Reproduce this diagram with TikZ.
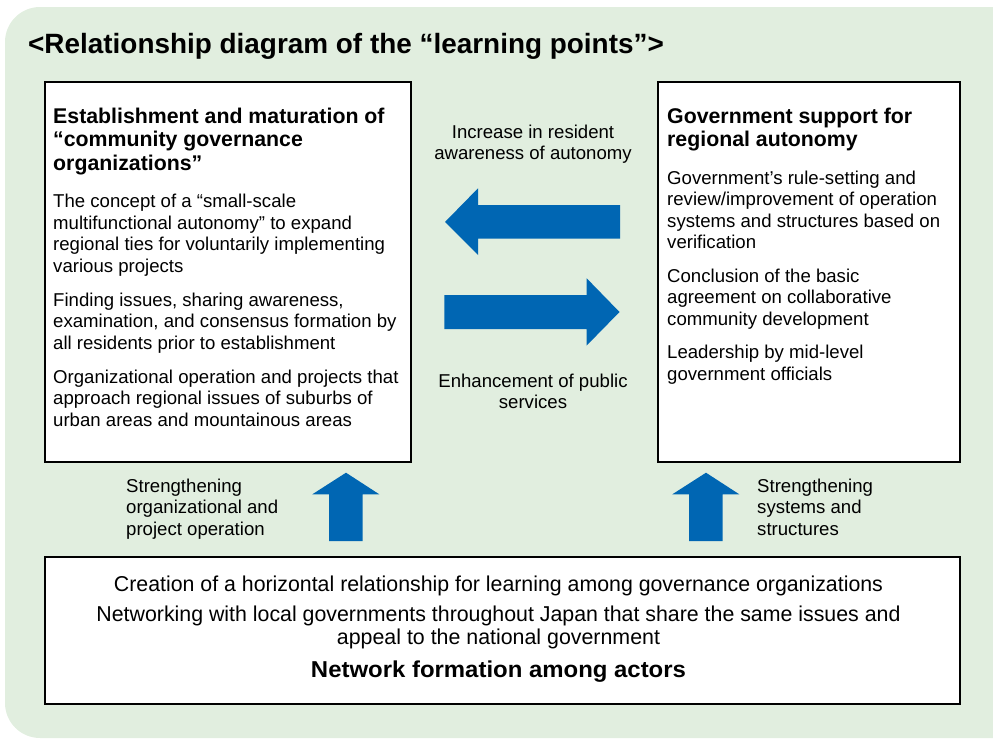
\documentclass[tikz,border=0pt]{standalone}
\usepackage{fontspec}
\setmainfont{Liberation Sans}
\usepackage{graphicx}
\definecolor{bggreen}{RGB}{225,238,223}
\definecolor{arrowblue}{RGB}{0,102,179}
\newcommand\txtlines[1]{\begin{tabular}[t]{@{}l@{}}#1\end{tabular}}
\newcommand\ctrlines[1]{\begin{tabular}[t]{@{}c@{}}#1\end{tabular}}
\newcommand\fitw[2]{\resizebox{#1}{\height}{#2}}
\begin{document}
\begin{tikzpicture}[x=1pt,y=-1pt,
  bx/.style={draw=black,line width=2pt,fill=white,inner sep=0pt,anchor=north west},
  arr/.style={fill=arrowblue},
  body/.style={inner sep=0pt,anchor=base west,font=\fontsize{18.6}{21.5}\selectfont},
  cbody/.style={inner sep=0pt,anchor=base,font=\fontsize{18.6}{21.5}\selectfont},
  head/.style={inner sep=0pt,anchor=base west,font=\fontsize{21.3}{23.5}\selectfont\bfseries},
  bot/.style={inner sep=0pt,anchor=base,font=\fontsize{21.5}{23}\selectfont},
  ]
\useasboundingbox (0,0) rectangle (993,739);
\fill[bggreen,rounded corners=35pt] (5,7) rectangle (1030,738);

% title
\node[inner sep=0pt,anchor=base west,font=\fontsize{27.9}{30}\selectfont\bfseries] (title) at (28,53) {<Relationship diagram of the “learning points”>};

% boxes
\node[bx,minimum width=366pt,minimum height=380pt] (lbox) at (44,81) {};
\node[bx,minimum width=302pt,minimum height=380pt] (rbox) at (657,81) {};
\node[bx,minimum width=915pt,minimum height=147pt] (bbox) at (44,556) {};

% left box text
\node[head] (lhead) at (53,123) {\txtlines{Establishment and maturation of\\“community governance\\organizations”}};
\node[body] (lp1) at (53,207.5) {\txtlines{The concept of a “small-scale\\multifunctional autonomy” to expand\\regional ties for voluntarily implementing\\various projects}};
\node[body] (lp2) at (53,306) {\txtlines{Finding issues, sharing awareness,\\examination, and consensus formation by\\all residents prior to establishment}};
\node[body] (lp3) at (53,383) {\txtlines{Organizational operation and projects that\\approach regional issues of suburbs of\\urban areas and mountainous areas}};

% right box text
\node[head] (rhead) at (667,123) {\txtlines{Government support for\\regional autonomy}};
\node[body] (rp1) at (667,184) {\txtlines{Government’s rule-setting and\\review/improvement of operation\\systems and structures based on\\verification}};
\node[body] (rp2) at (667,282) {\txtlines{Conclusion of the basic\\agreement on collaborative\\community development}};
\node[body] (rp3) at (667,358.5) {\txtlines{Leadership by mid-level\\government officials}};

% middle labels
\node[cbody] (mtop) at (533,138) {\ctrlines{Increase in resident\\awareness of autonomy}};
\node[cbody] (mbot) at (533,387) {\ctrlines{Enhancement of public\\services}};

% horizontal arrows
\fill[arr] (445,222) -- (478,188.3) -- (478,205) -- (620,205) -- (620,238.5) -- (478,238.5) -- (478,255) -- cycle;
\fill[arr] (619.5,312) -- (586.7,278.3) -- (586.7,295) -- (444.3,295) -- (444.3,329) -- (586.7,329) -- (586.7,345.5) -- cycle;

% vertical arrows
\fill[arr] (346,472.7) -- (379.3,494.3) -- (362.7,494.3) -- (362.7,541) -- (329,541) -- (329,494.3) -- (312.3,494.3) -- cycle;
\fill[arr] (706,472.7) -- (739.3,494.3) -- (722.7,494.3) -- (722.7,541) -- (689,541) -- (689,494.3) -- (672.3,494.3) -- cycle;

% side labels
\node[body] (llab) at (126,492) {\txtlines{Strengthening\\organizational and\\project operation}};
\node[body] (rlab) at (757,492) {\txtlines{Strengthening\\systems and\\structures}};

% bottom box text
\node[bot] (b1) at (498.5,591.5) {\fitw{769pt}{Creation of a horizontal relationship for learning among governance organizations}};
\node[bot] (b2) at (498.5,621) {\fitw{804pt}{Networking with local governments throughout Japan that share the same issues and}};
\node[bot] (b3) at (498.5,644) {\fitw{323pt}{appeal to the national government}};
\node[bot,font=\fontsize{23}{25}\selectfont\bfseries] (b4) at (498.5,677) {\fitw{375pt}{Network formation among actors}};
\end{tikzpicture}
\end{document}
